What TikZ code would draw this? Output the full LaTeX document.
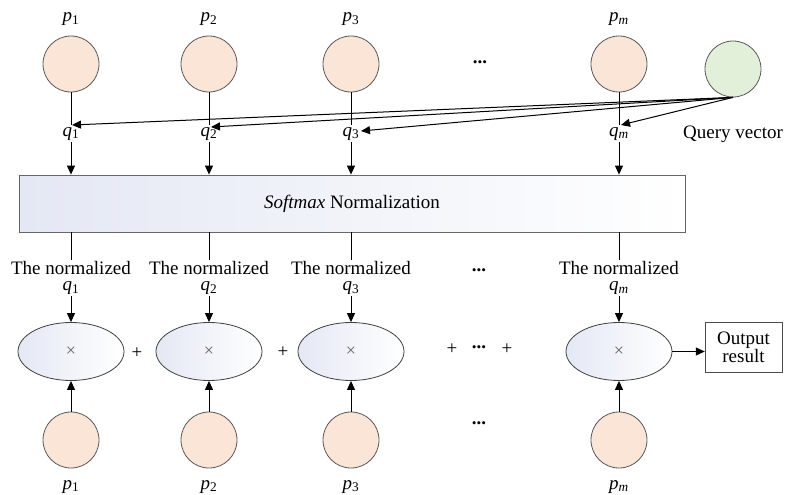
\documentclass[tikz,border=0pt]{standalone}
\usepackage{fontspec}
\setmainfont{Liberation Serif}
\usetikzlibrary{arrows.meta,shapes.geometric}

\definecolor{peach}{HTML}{FBE5D6}
\definecolor{mint}{HTML}{E2F0D9}
\definecolor{paleblue}{HTML}{E4E8F4}

\newcommand{\vsym}[2]{\textit{#1}\textsubscript{#2}}

\begin{document}
\begin{tikzpicture}[x=1pt, y=-1pt,
    pball/.style={circle, draw=black!65, fill=peach, minimum size=56pt, inner sep=0pt, line width=0.8pt},
    qball/.style={pball, fill=mint},
    mulnode/.style={ellipse, draw=black!75, left color=paleblue, right color=white, minimum width=106pt, minimum height=58pt, inner sep=0pt, line width=0.8pt},
    lab/.style={font=\fontsize{19}{19}\selectfont, inner sep=2pt},
    arr/.style={-{Triangle[length=9pt,width=8pt]}, line width=1pt},
    link/.style={line width=1pt}]

    \useasboundingbox (0,0) rectangle (785,495);

    % Softmax box
    \node[lab, draw=black!60, left color=paleblue, right color=white, minimum width=666pt, minimum height=57pt, line width=0.8pt] (soft) at (352,203.5) {\textit{Softmax} Normalization};

    % Top row: items and their scores
    \foreach \n/\s/\x in {1/1/71, 2/2/209, 3/3/351, m/{\textit{m}}/619} {
        \node[pball] (pt\n) at (\x,64) {};
        \node[lab, anchor=base] (lpt\n) at (\x,22) {\vsym{p}{\s}};
        \coordinate (j\n) at (\x,125);
        \node[lab, anchor=base] (q\n) at (\x,136) {\vsym{q}{\s}};
        \draw[link] (pt\n) -- (j\n);
        \draw[arr] (q\n.south) -- (q\n.south |- soft.north);
    }

    % Query vector
    \node[qball] (qv) at (733,69) {};
    \node[lab] (qvl) at (733,134) {Query vector};
    \foreach \n/\hx/\hy in {1/72/125, 2/211/127, 3/361/131, m/621/125} {
        \coordinate (h\n) at (\hx,\hy);
        \draw[arr] (qv.south) -- (h\n);
    }

    % Weighting row
    \foreach \n/\s/\x in {1/1/71, 2/2/209, 3/3/351, m/{\textit{m}}/619} {
        \node[lab, align=center, font=\fontsize{19}{16}\selectfont, inner sep=1.5pt] (nl\n) at (\x,278) {The normalized\\\vsym{q}{\s}};
        \node[mulnode] (e\n) at (\x,351.5) {\fontsize{18}{18}\selectfont\color{black!60}×};
        \node[pball] (pb\n) at (\x,440) {};
        \node[lab, anchor=base, inner sep=0pt] (lpb\n) at (\x,489) {\vsym{p}{\s}};
        \draw[link] (soft.south -| nl\n) -- (nl\n.north);
        \draw[arr] (nl\n.south) -- (e\n.north);
        \draw[arr] (pb\n) -- (e\n);
    }

    % Sums and dots
    \node[lab] (plus1) at (137,353) {+};
    \node[lab] (plus2) at (283,352) {+};
    \node[lab] (plus3) at (452,349) {+};
    \node[lab] (plus4) at (507,349) {+};
    \node[lab] (dotsum) at (479,347) {\textbf{...}};
    \node[lab] (dotstop) at (480,62) {\textbf{...}};
    \node[lab] (dotsmid) at (479,270) {\textbf{...}};
    \node[lab] (dotsbot) at (479,423) {\textbf{...}};

    % Output
    \node[draw=black!70, fill=white, align=center, minimum width=77pt, minimum height=50pt, inner sep=0pt, font=\fontsize{19}{18}\selectfont] (out) at (743.5,347) {Output\\result};
    \draw[arr] (em.east) -- (em.east -| out.west);
\end{tikzpicture}
\end{document}
